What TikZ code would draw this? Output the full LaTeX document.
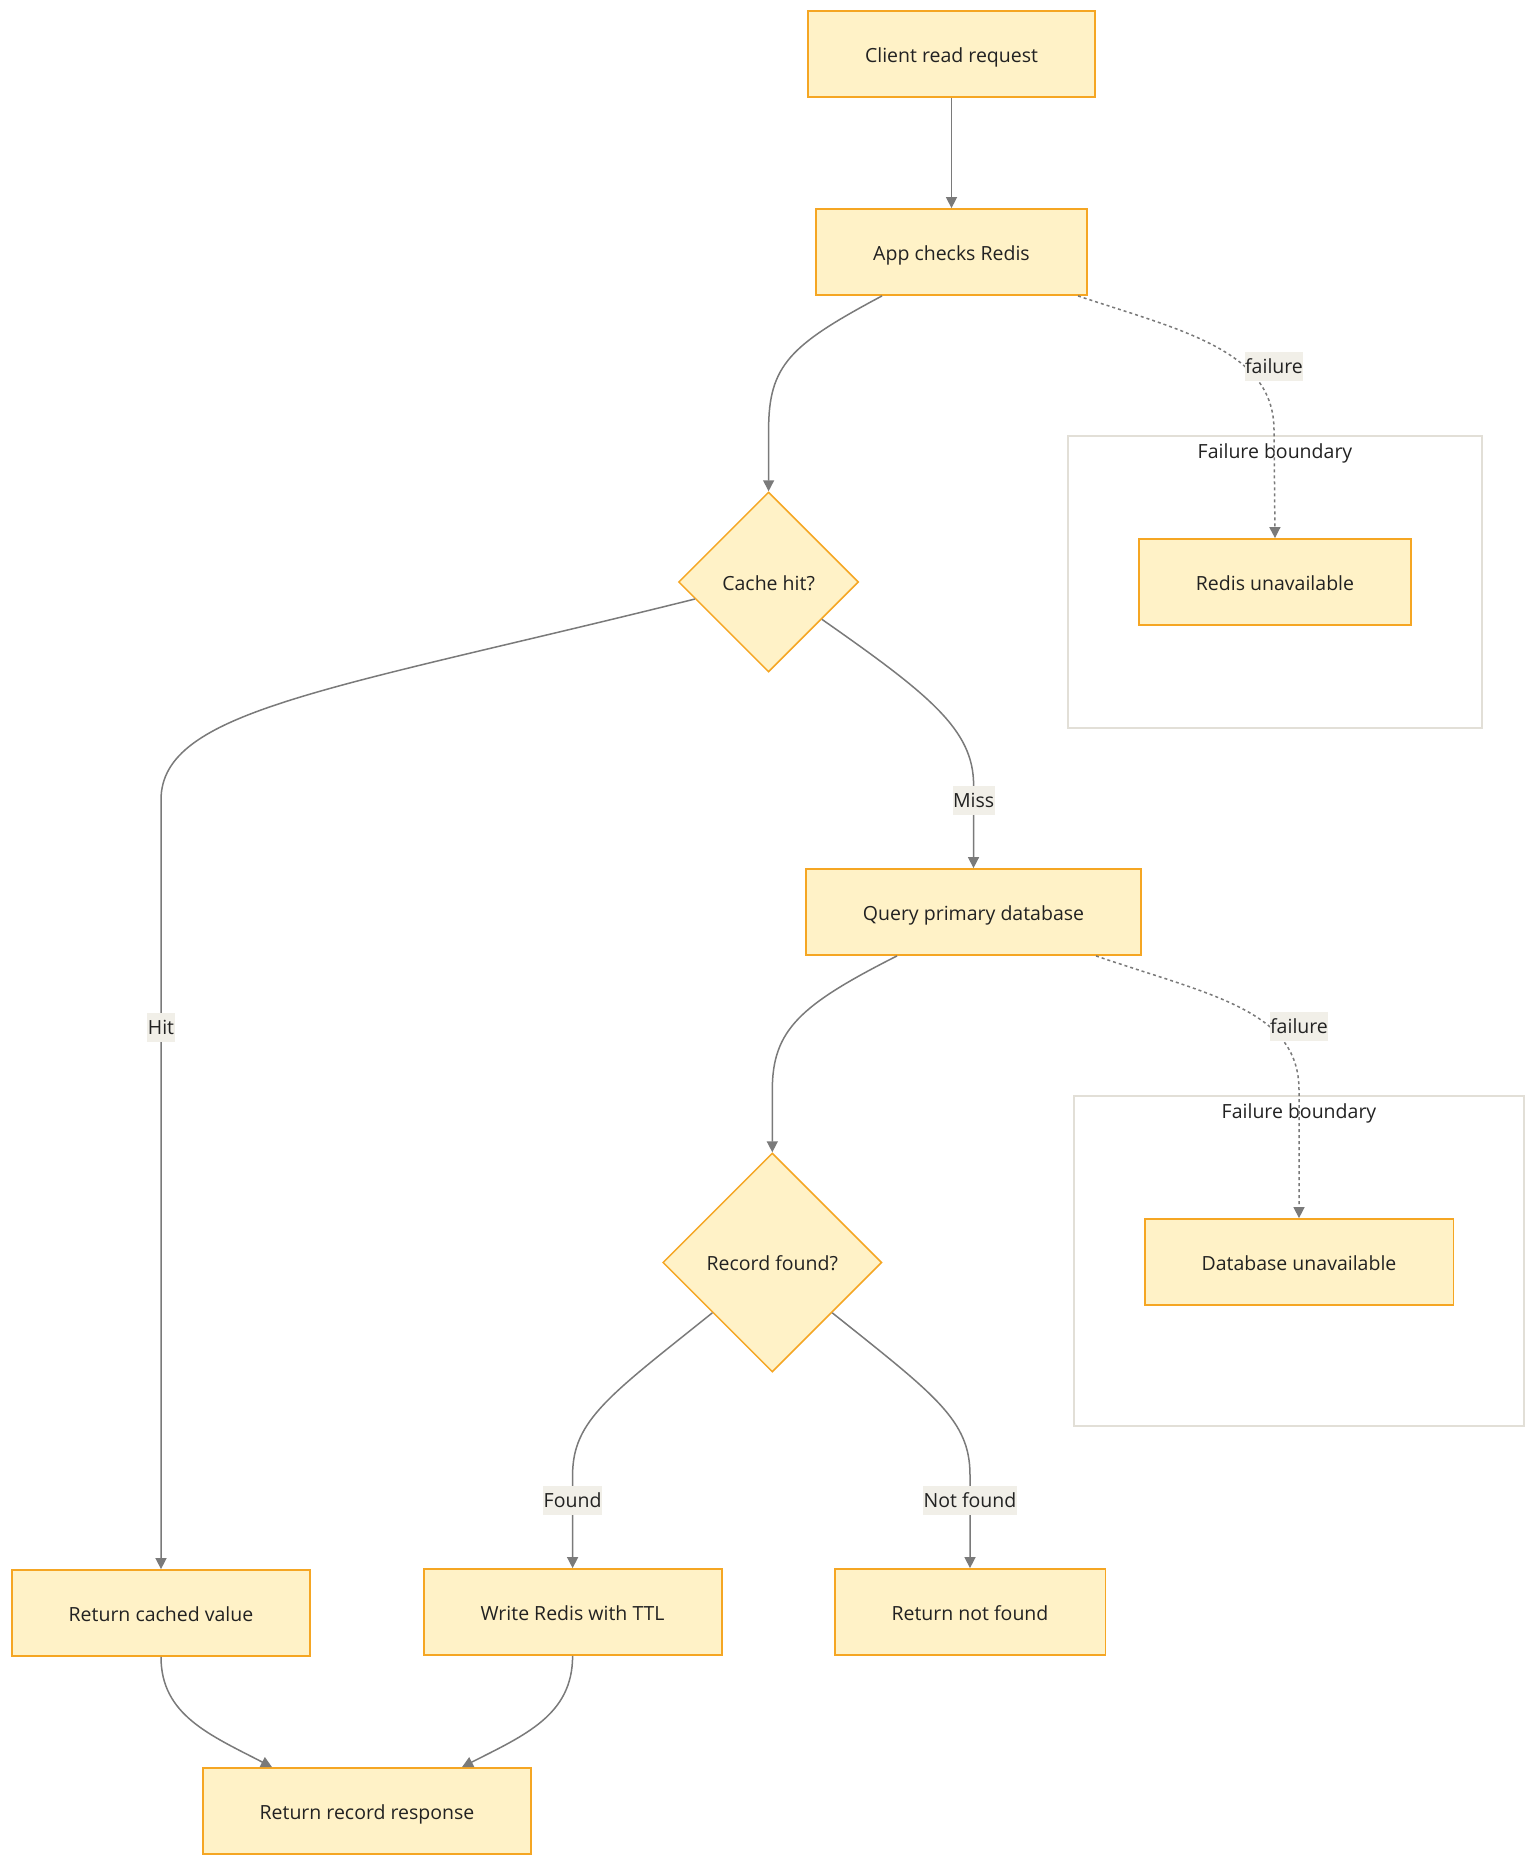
\documentclass[tikz,border=0pt]{standalone}
\usepackage{fontspec}
\setmainfont{Open Sans}
\usetikzlibrary{shapes.geometric, arrows.meta, positioning}
\definecolor{boxfill}{HTML}{FFF2C7}
\definecolor{boxline}{HTML}{F5A623}
\definecolor{edgegray}{HTML}{7A7A7A}
\definecolor{labelbg}{HTML}{F1EFE8}
\definecolor{clusterline}{HTML}{E2DFD7}
\definecolor{textdark}{HTML}{222222}

\begin{document}
\begin{tikzpicture}[x=1pt, y=-1pt,
    every node/.style={font=\fontsize{19.5}{23}\selectfont, text=textdark},
    procbox/.style={rectangle, draw=boxline, fill=boxfill, line width=1.8pt, minimum height=86pt, inner xsep=57pt, text height=19pt, text depth=2.5pt},
    decision/.style={diamond, draw=boxline, fill=boxfill, line width=1.5pt, aspect=1, inner sep=0pt, text height=19pt, text depth=2.5pt},
    boundary/.style={rectangle, draw=clusterline, line width=1.8pt},
    flow/.style={draw=edgegray, line width=1.5pt, -{Triangle[length=11pt, width=11pt]}},
    failflow/.style={flow, dash pattern=on 3pt off 3pt},
    edgelabel/.style={fill=labelbg, inner xsep=0.5pt, inner ysep=0.5pt, text height=21pt, text depth=7pt}]
\fill[white] (0,0) rectangle (1536,1869);
\useasboundingbox (0,0) rectangle (1536,1869);

% failure boundaries
\node[boundary, minimum width=414pt, minimum height=292pt] (redisfb) at (1275,582) {};
\node[below=8.5pt of redisfb.north, inner sep=0pt] (redisfbtitle) {Failure boundary};
\node[boundary, minimum width=450pt, minimum height=330pt] (dbfb) at (1299,1261) {};
\node[below=8.5pt of dbfb.north, inner sep=0pt] (dbfbtitle) {Failure boundary};

% steps
\node[procbox] (client) at (951.5,54) {Client read request};
\node[procbox] (app) at (951.5,252) {App checks Redis};
\node[decision, minimum width=180pt, minimum height=180pt] (chit) at (768.6,582) {Cache hit?};
\node[procbox] (redisdown) at (1275,582) {Redis unavailable};
\node[procbox] (query) at (973.5,912) {Query primary database};
\node[decision, minimum width=219pt, minimum height=219pt] (rfound) at (772.3,1262.5) {Record found?};
\node[procbox] (dbdown) at (1299,1262) {Database unavailable};
\node[procbox] (cached) at (161,1613) {Return cached value};
\node[procbox] (write) at (572.6,1612) {Write Redis with TTL};
\node[procbox] (notfound) at (970,1612) {Return not found};
\node[procbox] (response) at (367,1811) {Return record response};

% edges
\draw[flow] (client) -- (app);
\draw[flow] ([xshift=-69.5pt]app.south) .. controls (790,345) and (768.6,365) .. (768.6,430) -- (chit.north);
\draw[failflow] ([xshift=126.5pt]app.south) .. controls (1180,330) and (1274,350) .. (1274,430) -- (redisdown.north)
    node[edgelabel, solid] at (1274,366) {failure};
\draw[flow] (chit.193) .. controls (330,690) and (161,710) .. (161,800) -- node[edgelabel, pos=0.296] {Hit} (cached.north);
\draw[flow] (chit.325) .. controls (930,695) and (973.6,730) .. (973.6,785) -- node[edgelabel, pos=0.19] {Miss} (query.north);
\draw[flow] ([xshift=-76.5pt]query.south) .. controls (800,1005) and (772.3,1030) .. (772.3,1090) -- (rfound.north);
\draw[failflow] ([xshift=122.5pt]query.south) .. controls (1210,995) and (1299,1010) .. (1299,1090) -- (dbdown.north)
    node[edgelabel, solid] at (1299,1026) {failure};
\draw[flow] (rfound.220) .. controls (610,1395) and (572.6,1420) .. (572.6,1475) -- node[edgelabel, pos=0.27] {Found} (write.north);
\draw[flow] (rfound.320) .. controls (935,1395) and (970,1420) .. (970,1475) -- node[edgelabel, pos=0.27] {Not found} (notfound.north);
\draw[flow] (cached.south) .. controls (161,1715) and (210,1735) .. ([xshift=-95pt]response.north);
\draw[flow] (write.south) .. controls (572.6,1715) and (525,1735) .. ([xshift=95pt]response.north);
\end{tikzpicture}
\end{document}
